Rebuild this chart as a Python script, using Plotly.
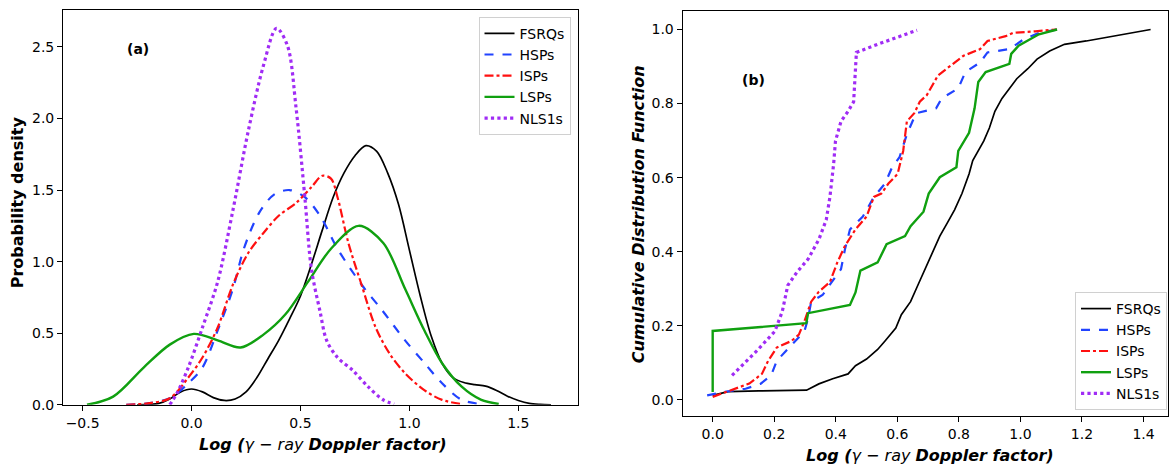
import plotly.graph_objects as go

# ---------------- Panel (a): probability density ----------------
fsrq_kx = [-0.25, -0.15, -0.10, -0.05, 0.00, 0.05, 0.10, 0.15, 0.20, 0.25, 0.30, 0.35, 0.40, 0.45,
           0.50, 0.55, 0.60, 0.65, 0.70, 0.75, 0.80, 0.85, 0.90, 0.95, 1.00, 1.05, 1.10, 1.15,
           1.20, 1.25, 1.30, 1.35, 1.40, 1.45, 1.50, 1.55, 1.60, 1.65]
fsrq_ky = [0.0, 0.01, 0.04, 0.09, 0.11, 0.09, 0.05, 0.03, 0.04, 0.09, 0.19, 0.32, 0.45, 0.60,
           0.76, 0.98, 1.22, 1.45, 1.62, 1.74, 1.81, 1.77, 1.62, 1.40, 1.08, 0.76, 0.48, 0.29,
           0.19, 0.155, 0.14, 0.13, 0.10, 0.06, 0.03, 0.01, 0.003, 0.0]

hsp_kx = [-0.30, -0.20, -0.10, -0.015, 0.05, 0.12, 0.19, 0.24, 0.31, 0.38, 0.45, 0.52, 0.59,
          0.67, 0.78, 0.88, 0.98, 1.07, 1.15, 1.24, 1.33]
hsp_ky = [0.0, 0.01, 0.045, 0.15, 0.26, 0.52, 0.81, 1.09, 1.34, 1.47, 1.50, 1.45, 1.32,
          1.09, 0.84, 0.65, 0.45, 0.29, 0.15, 0.034, 0.005]

isp_kx = [-0.30, -0.20, -0.10, -0.015, 0.05, 0.12, 0.19, 0.26, 0.33, 0.40, 0.48, 0.55, 0.60,
          0.64, 0.67, 0.72, 0.78, 0.845, 0.91, 0.98, 1.07, 1.15, 1.24]
isp_ky = [0.0, 0.01, 0.045, 0.19, 0.33, 0.54, 0.84, 1.06, 1.20, 1.32, 1.41, 1.52, 1.60,
          1.58, 1.45, 1.13, 0.84, 0.54, 0.355, 0.22, 0.10, 0.034, 0.005]

lsp_kx = [-0.48, -0.36, -0.22, -0.10, 0.01, 0.12, 0.225, 0.33, 0.43, 0.535, 0.64, 0.767,
          0.88, 0.98, 1.07, 1.15, 1.24, 1.33, 1.41]
lsp_ky = [0.0, 0.057, 0.26, 0.42, 0.495, 0.45, 0.40, 0.49, 0.63, 0.86, 1.09, 1.25,
          1.13, 0.81, 0.515, 0.29, 0.126, 0.034, 0.005]

nls_kx = [-0.10, -0.067, -0.015, 0.05, 0.12, 0.19, 0.26, 0.33, 0.39, 0.44, 0.48, 0.52,
          0.55, 0.59, 0.62, 0.67, 0.74, 0.81, 0.88, 0.93]
nls_ky = [0.0, 0.08, 0.26, 0.54, 0.86, 1.36, 1.91, 2.37, 2.63, 2.51, 2.07, 1.45,
          0.95, 0.65, 0.45, 0.33, 0.24, 0.126, 0.034, 0.005]

# ---------------- Panel (b): cumulative distribution ----------------
fsrq_cx = [0.0, 0.05, 0.15, 0.305, 0.345, 0.39, 0.44, 0.464, 0.50, 0.536, 0.56, 0.595, 0.613,
           0.643, 0.667, 0.69, 0.714, 0.738, 0.762, 0.786, 0.81, 0.833, 0.845, 0.863, 0.881,
           0.899, 0.917, 0.94, 0.964, 0.988, 1.024, 1.054, 1.095, 1.143, 1.214, 1.274, 1.345,
           1.393, 1.423]
fsrq_cy = [0.012, 0.022, 0.024, 0.026, 0.043, 0.057, 0.07, 0.092, 0.11, 0.136, 0.159, 0.194,
           0.23, 0.265, 0.31, 0.353, 0.398, 0.442, 0.477, 0.513, 0.557, 0.61, 0.646, 0.672,
           0.699, 0.734, 0.779, 0.814, 0.841, 0.867, 0.894, 0.92, 0.942, 0.96, 0.969, 0.978,
           0.987, 0.994, 1.0]

hsp_cx = [-0.018, 0.036, 0.107, 0.155, 0.19, 0.208, 0.238, 0.268, 0.298, 0.31, 0.32, 0.357,
          0.381, 0.417, 0.43, 0.446, 0.488, 0.524, 0.56, 0.583, 0.607, 0.631, 0.661, 0.726,
          0.744, 0.798, 0.821, 0.869, 0.893, 0.964, 1.01, 1.06, 1.119]
hsp_cy = [0.012, 0.021, 0.03, 0.043, 0.066, 0.105, 0.132, 0.159, 0.185, 0.22, 0.265, 0.283,
          0.31, 0.353, 0.407, 0.46, 0.495, 0.548, 0.584, 0.628, 0.655, 0.717, 0.774, 0.787,
          0.814, 0.841, 0.885, 0.911, 0.938, 0.947, 0.973, 0.991, 1.0]

isp_cx = [0.0, 0.06, 0.119, 0.16, 0.18, 0.208, 0.256, 0.28, 0.298, 0.32, 0.345, 0.381, 0.405,
          0.43, 0.464, 0.5, 0.524, 0.548, 0.571, 0.601, 0.619, 0.631, 0.655, 0.673, 0.696,
          0.732, 0.774, 0.815, 0.869, 0.893, 0.952, 0.976, 1.048, 1.119]
isp_cy = [0.008, 0.026, 0.044, 0.07, 0.105, 0.141, 0.159, 0.176, 0.212, 0.265, 0.292, 0.318,
          0.371, 0.416, 0.46, 0.495, 0.548, 0.557, 0.584, 0.61, 0.672, 0.752, 0.774, 0.805,
          0.823, 0.876, 0.903, 0.929, 0.947, 0.969, 0.982, 0.991, 0.995, 1.0]

lsp_cx = [0.0, 0.0, 0.304, 0.31, 0.446, 0.464, 0.48, 0.536, 0.565, 0.625, 0.643, 0.685, 0.702,
          0.738, 0.792, 0.798, 0.833, 0.851, 0.863, 0.887, 0.964, 0.97, 0.994, 1.06, 1.119]
lsp_cy = [0.021, 0.186, 0.207, 0.234, 0.256, 0.29, 0.349, 0.371, 0.42, 0.442, 0.469, 0.508,
          0.557, 0.601, 0.628, 0.672, 0.721, 0.787, 0.858, 0.885, 0.907, 0.934, 0.956, 0.987, 1.0]

nls_cx = [0.063, 0.143, 0.202, 0.226, 0.244, 0.274, 0.31, 0.345, 0.369, 0.381, 0.393, 0.399,
          0.417, 0.44, 0.458, 0.467, 0.536, 0.595, 0.664]
nls_cy = [0.066, 0.132, 0.185, 0.238, 0.309, 0.345, 0.38, 0.433, 0.486, 0.548, 0.637, 0.699,
          0.752, 0.779, 0.805, 0.938, 0.96, 0.978, 0.998]

names = ["FSRQs", "HSPs", "ISPs", "LSPs", "NLS1s"]
colors = ["#000000", "#2143ff", "#ff1010", "#10a010", "#a02cf5"]
dashes = ["solid", "dash", "dashdot", "solid", "dot"]
widths = [1.7, 2.2, 2.2, 2.4, 3.2]

kde = [(fsrq_kx, fsrq_ky), (hsp_kx, hsp_ky), (isp_kx, isp_ky), (lsp_kx, lsp_ky), (nls_kx, nls_ky)]
cdf = [(fsrq_cx, fsrq_cy), (hsp_cx, hsp_cy), (isp_cx, isp_cy), (lsp_cx, lsp_cy), (nls_cx, nls_cy)]

fig = go.Figure()
for i, (xs, ys) in enumerate(kde):
    fig.add_trace(go.Scatter(x=xs, y=ys, mode="lines", name=names[i],
                             line=dict(color=colors[i], dash=dashes[i], width=widths[i],
                                       shape="spline", smoothing=0.9),
                             xaxis="x", yaxis="y", legend="legend"))
for i, (xs, ys) in enumerate(cdf):
    fig.add_trace(go.Scatter(x=xs, y=ys, mode="lines", name=names[i],
                             line=dict(color=colors[i], dash=dashes[i], width=widths[i]),
                             xaxis="x2", yaxis="y2", legend="legend2"))

W, H = 1169, 474
FONT = "DejaVu Sans"
axis_common = dict(showgrid=False, zeroline=False, showline=True, linecolor="black",
                   linewidth=1.3, mirror=True, ticks="outside", ticklen=5, tickwidth=1.2,
                   tickcolor="black", tickfont=dict(family=FONT, size=14, color="black"))

fig.update_layout(
    width=W, height=H, margin=dict(l=0, r=0, t=0, b=0),
    plot_bgcolor="white", paper_bgcolor="white",
    font=dict(family=FONT, color="black"),
    xaxis=dict(domain=[63.3 / W, 578.3 / W], range=[-0.589, 1.773],
               tickvals=[-0.5, 0.0, 0.5, 1.0, 1.5], ticktext=["\u22120.5", "0.0", "0.5", "1.0", "1.5"],
               **axis_common),
    yaxis=dict(domain=[(H - 411.7) / H, (H - 10) / H], range=[0, 2.759],
               tickvals=[0, 0.5, 1.0, 1.5, 2.0, 2.5], ticktext=["0.0", "0.5", "1.0", "1.5", "2.0", "2.5"],
               **axis_common),
    xaxis2=dict(domain=[683.3 / W, 1.0], range=[-0.0974, 1.4795],
                tickvals=[0, 0.2, 0.4, 0.6, 0.8, 1.0, 1.2, 1.4],
                ticktext=["0.0", "0.2", "0.4", "0.6", "0.8", "1.0", "1.2", "1.4"],
                anchor="y2", **axis_common),
    yaxis2=dict(domain=[(H - 423.3) / H, (H - 11) / H], range=[-0.0441, 1.0504],
                tickvals=[0, 0.2, 0.4, 0.6, 0.8, 1.0],
                ticktext=["0.0", "0.2", "0.4", "0.6", "0.8", "1.0"],
                anchor="x2", **axis_common),
    legend=dict(x=571 / W, y=(H - 17) / H, xanchor="right", yanchor="top",
                bgcolor="white", bordercolor="#d0d0d0", borderwidth=1,
                font=dict(family=FONT, size=14, color="black"), itemwidth=30,
                tracegroupgap=0),
    legend2=dict(x=1168 / W, y=(H - 297) / H, xanchor="right", yanchor="top",
                 bgcolor="white", bordercolor="#d0d0d0", borderwidth=1,
                 font=dict(family=FONT, size=14, color="black"), itemwidth=30,
                 tracegroupgap=0),
)

def note(text, px, py, size, angle=0):
    return dict(text=text, x=px / W, y=(H - py) / H, xref="paper", yref="paper",
                xanchor="center", yanchor="middle", showarrow=False, textangle=angle,
                font=dict(family=FONT, size=size, color="black"))

xtitle = "<b><i>Log (</i></b><i>\u03b3 \u2212 ray</i> <b><i>Doppler factor)</i></b>"
ann = [
    note("<b>(a)</b>", 137.7, 50, 14),
    note("<b>(b)</b>", 754, 81.7, 14),
    note(xtitle, 323, 451.7, 16),
    note(xtitle, 931, 463, 16),
    note("<b>Probability density</b>", 17.3, 205.5, 16, -90),
    note("<b><i>Cumulative Distribution Function</i></b>", 639, 217.5, 16, -90),
]
fig.update_layout(annotations=ann)

fig.write_html("out.html")
